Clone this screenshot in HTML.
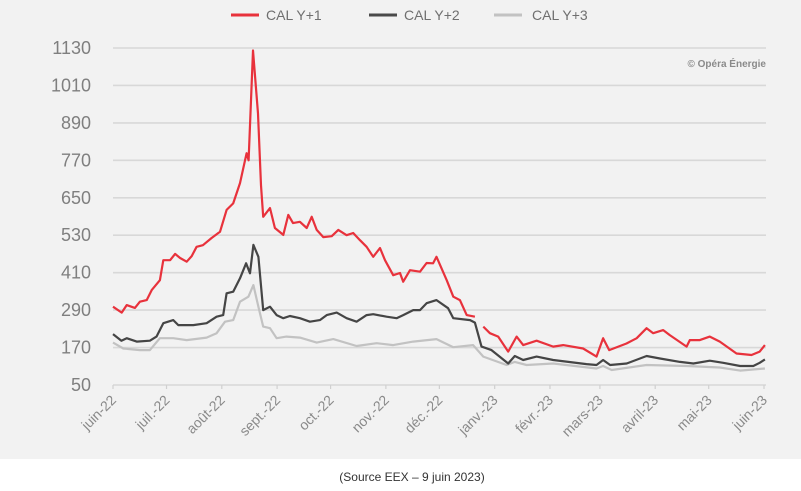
<!DOCTYPE html>
<html><head><meta charset="utf-8">
<style>
html,body{margin:0;padding:0;background:#fff;}
svg{display:block;font-family:"Liberation Sans",sans-serif;}
</style></head>
<body>
<svg id="chart" width="801" height="491" viewBox="0 0 801 491">
  <rect x="0" y="0" width="801" height="459" fill="#f2f2f2"/>
  <g id="grid"></g>
  <g id="yaxis"></g>
  <g id="xaxis"></g>
  <g id="series"></g>
  <g>
    <g>
      <line x1="231" y1="15" x2="259" y2="15" stroke="#e8323c" stroke-width="3"/>
      <text x="266" y="20" font-size="14" fill="#6f6f6f">CAL Y+1</text>
    </g>
    <g>
      <line x1="369" y1="15" x2="397" y2="15" stroke="#4a4a4a" stroke-width="3"/>
      <text x="404" y="20" font-size="14" fill="#6f6f6f">CAL Y+2</text>
    </g>
    <g>
      <line x1="494" y1="15" x2="522" y2="15" stroke="#c2c2c2" stroke-width="3"/>
      <text x="532" y="20" font-size="14" fill="#6f6f6f">CAL Y+3</text>
    </g>
  </g>
  <text x="766" y="67" text-anchor="end" font-size="10" font-weight="bold" fill="#8a8a8a">© Opéra Énergie</text>
  <text x="412" y="481" text-anchor="middle" font-size="12" fill="#333">(Source EEX – 9 juin 2023)</text>
</svg>
<script>
const yTicks = [50,170,290,410,530,650,770,890,1010,1130];
const monthLabels = ["juin-22","juil.-22","août-22","sept.-22","oct.-22","nov.-22","déc.-22","janv.-23","févr.-23","mars-23","avril-23","mai-23","juin-23"];
const monthDays = [0,30,61,92,122,153,183,214,245,273,304,334,365];

const y1Days = [0,4.9,7.7,12.3,15.1,18.9,21.7,26.3,28.2,32,34.8,37.6,41.3,44.1,46.9,50.4,55.3,60,63.7,67.4,71.2,74.9,76,78.5,81.3,83,84.2,88,90.8,95.5,98.3,100.9,104.8,108.6,111.4,114.2,117.9,122.6,126.3,131,134.7,138.5,142.2,145.9,149.7,152.5,157.1,160.9,162.7,166.5,172.1,175.8,179.5,181.4,187.1,190.8,194.5,198.3,202.9,205,207.6,211.3,216,221.6,226.3,230,237.5,246.8,252.4,263.6,271.1,274.8,278.2,287.9,293.6,299.2,302.9,308.5,312.2,321.6,323.4,329,334.6,340.2,349.6,358,362.6,365.5];
const y1Vals = [301,282,306,297,317,322,354,386,450,450,470,457,445,463,493,498,521,541,611,632,697,793,770,1122,920,690,589,617,553,531,595,569,573,553,589,547,524,527,547,530,537,514,493,461,489,450,402,409,381,418,413,441,440,461,386,333,322,274,269,null,237,216,205,157,205,178,192,173,178,167,141,200,162,183,200,232,216,226,210,173,194,194,205,189,151,146,157,178];

const y2Days = [0,4.7,7.7,13.3,20.7,24.4,28.2,33.8,36.6,45,52.5,58.1,61.8,63.7,67.4,71.2,74.6,76.8,78.7,81.5,84.2,88,91.7,95.5,99.2,104.8,110.4,116,119.8,125.4,131,136.6,142.2,145.9,153.4,159,162.7,168.3,172.1,175.8,181.4,187.9,190.8,200.2,202.9,206.6,212.2,221.6,225.3,230,237.5,246.8,265.5,271.1,274.8,278.7,288,299.2,306.7,317.9,325.4,334.6,342.1,351.6,359,362.6,365.5];
const y2Vals = [213,192,200,189,192,205,248,258,242,242,248,269,274,344,349,392,440,408,499,461,290,301,274,264,271,264,253,258,274,282,264,253,274,277,269,264,274,290,290,312,322,296,264,258,250,173,162,119,143,130,141,130,117,114,130,114,119,143,135,124,119,128,121,111,111,121,132];

const y3Days = [0,5.8,15.1,20.7,26.3,33.8,41.3,52.5,58.1,62.8,67.4,71.2,75.9,78.7,81.5,84.2,88,91.7,97.3,104.8,114.2,123.5,136.6,147.8,157.1,168.3,181.4,190.8,201.9,207.6,220.7,225.3,231.9,246.8,271.1,274.8,279.6,299.2,321.6,340.2,351.6,365.5];
const y3Vals = [186,167,162,162,200,200,194,202,216,253,258,317,333,370,301,237,232,200,205,202,186,197,175,184,178,189,197,171,178,141,114,124,114,119,103,111,98,114,111,106,96,103];

const NS="http://www.w3.org/2000/svg";
const X0=113, X1=764, Ytop=48, Ybot=385;
function xs(d){return X0+(X1-X0)*d/365;}
function ys(v){return Ybot-(Ybot-Ytop)*(v-50)/(1130-50);}
function mk(tag,attrs,parent){const e=document.createElementNS(NS,tag);for(const k in attrs)e.setAttribute(k,attrs[k]);parent.appendChild(e);return e;}

const grid=document.getElementById('grid'), ya=document.getElementById('yaxis'), xa=document.getElementById('xaxis'), ser=document.getElementById('series');
yTicks.forEach(v=>{
  const l=mk('line',{x1:X0,x2:766,y1:ys(v),y2:ys(v),stroke:'#d8d8d8','stroke-width':1.6},grid);
  
  
  const t=mk('text',{x:91,y:ys(v)+6,'text-anchor':'end','font-size':18,fill:'#7f7f7f'},ya);
  t.textContent=v;
  
  
});
monthDays.forEach((d,i)=>{
  const x=xs(d);
  const tk=mk('line',{x1:x,x2:x,y1:Ybot,y2:Ybot+4,stroke:'#d0d0d0','stroke-width':1.2},xa);
  
  
  const t=mk('text',{x:x+4,y:Ybot+16,'text-anchor':'end','font-size':14,fill:'#8a8a8a',transform:`rotate(-45 ${x+4} ${Ybot+16})`},xa);
  t.textContent=monthLabels[i];
  
  
});
function drawLine(days,vals,color,name){
  let d='',pen=false;
  days.forEach((dd,i)=>{
    const v=vals[i];
    if(v===null){pen=false;return;}
    d+=(pen?'L':'M')+xs(dd).toFixed(1)+','+ys(v).toFixed(1);
    pen=true;
  });
  const p=mk('path',{d:d,fill:'none',stroke:color,'stroke-width':2.2,'stroke-linejoin':'round'},ser);
  
  
}
drawLine(y3Days,y3Vals,'#c2c2c2','line-cal-y3');
drawLine(y2Days,y2Vals,'#454545','line-cal-y2');
drawLine(y1Days,y1Vals,'#e8323c','line-cal-y1');
</script>
</body></html>
